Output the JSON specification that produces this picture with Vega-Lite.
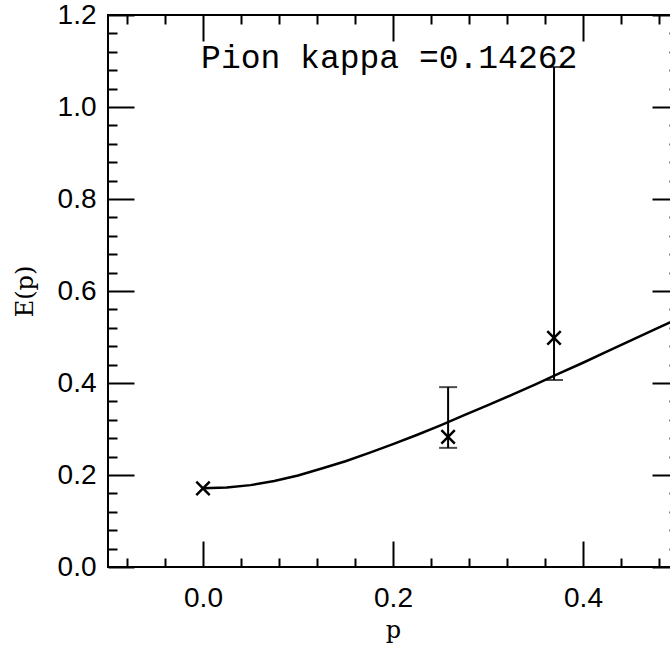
{
  "$schema": "https://vega.github.io/schema/vega-lite/v6.json",
  "autosize": {"type": "none"},
  "width": 570,
  "height": 552,
  "padding": {"left": 108, "top": 15, "right": -8, "bottom": 82},
  "background": "white",
  "config": {
    "view": {"stroke": "black", "strokeWidth": 2},
    "axis": {"domain": false, "grid": false, "tickColor": "black", "tickWidth": 2, "labelColor": "black", "titleColor": "black", "labelFont": "Liberation Sans", "labelFontSize": 28, "titleFont": "DejaVu Serif", "titleFontSize": 24, "titleFontWeight": "normal"}
  },
  "datasets": {
    "curve": [
      {"p": 0.0, "E": 0.171}, {"p": 0.025, "E": 0.173}, {"p": 0.05, "E": 0.178}, {"p": 0.075, "E": 0.187},
      {"p": 0.1, "E": 0.199}, {"p": 0.125, "E": 0.214}, {"p": 0.15, "E": 0.230}, {"p": 0.175, "E": 0.248},
      {"p": 0.2, "E": 0.267}, {"p": 0.225, "E": 0.287}, {"p": 0.25, "E": 0.308}, {"p": 0.275, "E": 0.330},
      {"p": 0.3, "E": 0.352}, {"p": 0.325, "E": 0.374}, {"p": 0.35, "E": 0.397}, {"p": 0.375, "E": 0.421},
      {"p": 0.4, "E": 0.444}, {"p": 0.425, "E": 0.468}, {"p": 0.45, "E": 0.492}, {"p": 0.475, "E": 0.516},
      {"p": 0.5, "E": 0.540}
    ],
    "points": [
      {"p": 0.0, "E": 0.171},
      {"p": 0.258, "E": 0.283, "lo": 0.259, "hi": 0.391},
      {"p": 0.3695, "E": 0.498, "lo": 0.4065, "hi": 1.087}
    ],
    "label": [{"text": "Pion kappa =0.14262", "p": 0.196, "E": 1.085}]
  },
  "resolve": {"axis": {"x": "independent", "y": "independent"}},
  "layer": [
    {
      "data": {"name": "curve"},
      "mark": {"type": "line", "color": "black", "strokeWidth": 2.5},
      "encoding": {
        "x": {"field": "p", "type": "quantitative", "scale": {"domain": [-0.1, 0.5], "nice": false, "zero": false},
              "axis": {"orient": "bottom", "title": "p", "values": [0, 0.2, 0.4], "format": ".1f", "tickSize": -26, "labelPadding": 43, "titlePadding": 6}},
        "y": {"field": "E", "type": "quantitative", "scale": {"domain": [0, 1.2], "nice": false, "zero": false},
              "axis": {"orient": "left", "title": "E(p)", "values": [0, 0.2, 0.4, 0.6, 0.8, 1.0, 1.2], "format": ".1f", "tickSize": -26, "labelPadding": 38, "titlePadding": 20}}
      }
    },
    {
      "data": {"name": "points"},
      "mark": {"type": "rule", "color": "black", "strokeWidth": 2},
      "encoding": {
        "x": {"field": "p", "type": "quantitative", "scale": {"domain": [-0.1, 0.5], "nice": false, "zero": false},
              "axis": {"orient": "bottom", "title": null, "labels": false, "values": [-0.08, -0.04, 0.04, 0.08, 0.12, 0.16, 0.24, 0.28, 0.32, 0.36, 0.44, 0.48], "tickSize": -9}},
        "y": {"field": "lo", "type": "quantitative", "scale": {"domain": [0, 1.2], "nice": false, "zero": false},
              "axis": {"orient": "left", "title": null, "labels": false, "values": [0.04, 0.08, 0.12, 0.16, 0.24, 0.28, 0.32, 0.36, 0.44, 0.48, 0.52, 0.56, 0.64, 0.68, 0.72, 0.76, 0.84, 0.88, 0.92, 0.96, 1.04, 1.08, 1.12, 1.16], "tickSize": -9}},
        "y2": {"field": "hi"}
      }
    },
    {
      "data": {"name": "points"},
      "transform": [{"fold": ["lo", "hi"], "as": ["end", "v"]}, {"filter": "isValid(datum.v)"}],
      "mark": {"type": "tick", "color": "black", "orient": "horizontal", "size": 18, "thickness": 2},
      "encoding": {
        "x": {"field": "p", "type": "quantitative", "scale": {"domain": [-0.1, 0.5], "nice": false, "zero": false},
              "axis": {"orient": "top", "title": null, "labels": false, "values": [0, 0.2, 0.4], "tickSize": -26}},
        "y": {"field": "v", "type": "quantitative", "scale": {"domain": [0, 1.2], "nice": false, "zero": false},
              "axis": {"orient": "right", "title": null, "labels": false, "values": [0, 0.2, 0.4, 0.6, 0.8, 1.0, 1.2], "tickSize": -26}}
      }
    },
    {
      "data": {"name": "points"},
      "mark": {"type": "point", "shape": "M-1,-1L1,1M-1,1L1,-1", "filled": false, "stroke": "black", "strokeWidth": 2.5, "size": 180, "opacity": 1},
      "encoding": {
        "x": {"field": "p", "type": "quantitative", "scale": {"domain": [-0.1, 0.5], "nice": false, "zero": false},
              "axis": {"orient": "top", "title": null, "labels": false, "values": [-0.08, -0.04, 0.04, 0.08, 0.12, 0.16, 0.24, 0.28, 0.32, 0.36, 0.44, 0.48], "tickSize": -9}},
        "y": {"field": "E", "type": "quantitative", "scale": {"domain": [0, 1.2], "nice": false, "zero": false},
              "axis": {"orient": "right", "title": null, "labels": false, "values": [0.04, 0.08, 0.12, 0.16, 0.24, 0.28, 0.32, 0.36, 0.44, 0.48, 0.52, 0.56, 0.64, 0.68, 0.72, 0.76, 0.84, 0.88, 0.92, 0.96, 1.04, 1.08, 1.12, 1.16], "tickSize": -9}}
      }
    },
    {
      "data": {"name": "label"},
      "mark": {"type": "text", "font": "Liberation Mono", "fontSize": 33, "color": "black", "align": "center", "baseline": "alphabetic"},
      "encoding": {
        "x": {"field": "p", "type": "quantitative", "scale": {"domain": [-0.1, 0.5], "nice": false, "zero": false}, "axis": null},
        "y": {"field": "E", "type": "quantitative", "scale": {"domain": [0, 1.2], "nice": false, "zero": false}, "axis": null},
        "text": {"field": "text"}
      }
    }
  ]
}
